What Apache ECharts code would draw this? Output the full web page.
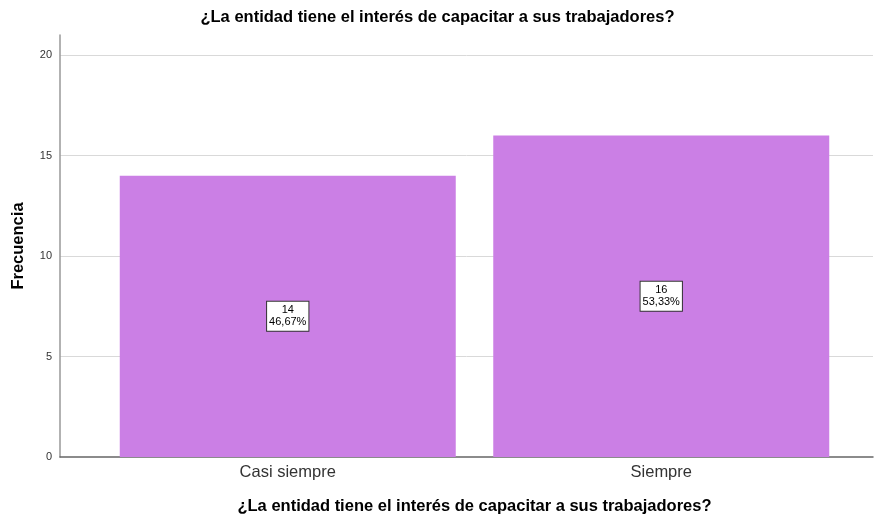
<!DOCTYPE html>
<html lang="es">
<head>
    <meta charset="UTF-8">
    <title>Frecuencia</title>
    <script src="https://cdn.jsdelivr.net/npm/echarts@6/dist/echarts.min.js"></script>
    <style>
        html, body { margin: 0; padding: 0; background: #fff; }
        #main { width: 875px; height: 517px; }
    </style>
</head>
<body>
    <div id="main"></div>
    <script>
        // datos
        const categorias = ["Casi siempre", "Siempre"];
        const frecuencias = [14, 16];
        const porcentajes = ["46,67%", "53,33%"];
        const yTicks = [0, 5, 10, 15, 20];

        const titulo = "¿La entidad tiene el interés de capacitar a sus trabajadores?";
        const fuente = "Arial, 'Liberation Sans', sans-serif";

        const chart = echarts.init(document.getElementById('main'));

        const option = {
            animation: false,
            title: {
                text: titulo,
                left: 'center',
                top: 4,
                textStyle: { fontFamily: fuente, fontSize: 16.5, fontWeight: 'bold', color: '#000' }
            },
            grid: [
                // marco con los ejes (eje Y, rejilla y línea base)
                { left: 60, right: 2, top: 35, bottom: 60, outerBoundsMode: 'none' },
                // zona de las barras
                { left: 101, width: 747, top: 35, bottom: 60, outerBoundsMode: 'none' }
            ],
            xAxis: [
                {
                    gridIndex: 0,
                    type: 'category',
                    data: categorias,
                    axisLine: { lineStyle: { color: '#666', width: 1.5 } },
                    axisTick: { show: false },
                    axisLabel: { show: false }
                },
                {
                    gridIndex: 1,
                    type: 'category',
                    data: categorias,
                    axisLine: { show: false },
                    axisTick: { show: false },
                    axisLabel: { fontFamily: fuente, fontSize: 16.5, color: '#333', margin: 7 },
                    name: titulo,
                    nameLocation: 'middle',
                    nameGap: 41,
                    nameTextStyle: { fontFamily: fuente, fontSize: 16.5, fontWeight: 'bold', color: '#000' }
                }
            ],
            yAxis: [
                {
                    gridIndex: 0,
                    type: 'value',
                    min: yTicks[0],
                    max: 21,
                    interval: yTicks[1] - yTicks[0],
                    axisLine: { show: true, lineStyle: { color: '#999', width: 1.5 } },
                    axisTick: { show: false },
                    axisLabel: { fontFamily: fuente, fontSize: 11, color: '#333', margin: 8, showMaxLabel: false },
                    splitLine: { lineStyle: { color: '#d9d9d9', width: 1 }, showMaxLine: false, showMinLine: false },
                    name: 'Frecuencia',
                    nameLocation: 'middle',
                    nameGap: 33,
                    nameTextStyle: { fontFamily: fuente, fontSize: 16.5, fontWeight: 'bold', color: '#000' }
                },
                {
                    gridIndex: 1,
                    type: 'value',
                    min: yTicks[0],
                    max: 21,
                    show: false
                }
            ],
            series: [
                {
                    type: 'bar',
                    xAxisIndex: 1,
                    yAxisIndex: 1,
                    data: frecuencias,
                    barWidth: 336,
                    itemStyle: { color: '#cb7fe5' },
                    label: {
                        show: true,
                        position: 'inside',
                        formatter: (p) => p.value + '\n' + porcentajes[p.dataIndex],
                        fontFamily: fuente,
                        fontSize: 11,
                        lineHeight: 12,
                        color: '#000',
                        backgroundColor: '#fff',
                        borderColor: '#333',
                        borderWidth: 1,
                        padding: [3, 2, 2, 2]
                    }
                }
            ]
        };

        chart.setOption(option);
    </script>
</body>
</html>
